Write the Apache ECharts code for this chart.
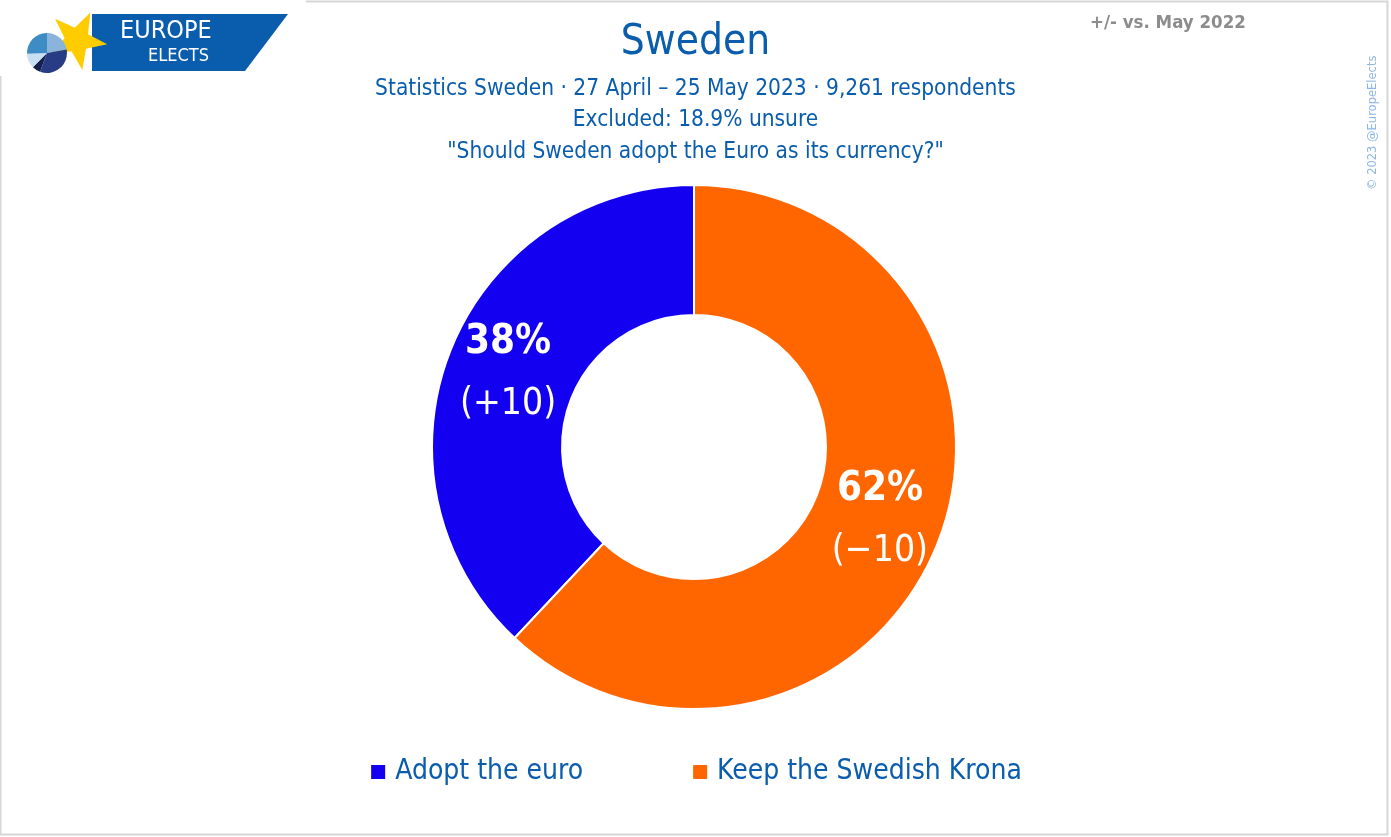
<!DOCTYPE html>
<html><head><meta charset="utf-8">
<script src="https://cdn.jsdelivr.net/npm/echarts@6/dist/echarts.min.js"></script>
<style>html,body{margin:0;padding:0;background:#fff}#c{width:1391px;height:837px}</style>
</head><body><div id="c"></div>
<script>
const categories = ["Adopt the euro", "Keep the Swedish Krona"];
const shares = [38, 62];
const changes = ["+10", "−10"];
const colors = ["#1400F0", "#FF6600"];
const titleText = "Sweden";
const subtitleLines = ["Statistics Sweden · 27 April – 25 May 2023 · 9,261 respondents", "Excluded: 18.9% unsure", "\"Should Sweden adopt the Euro as its currency?\""];
const compareText = "+/- vs. May 2022";
const copyrightText = "© 2023 @EuropeElects";

const FONT = "'DejaVu Sans Condensed','DejaVu Sans',sans-serif";
const chart = echarts.init(document.getElementById('c'));

function starPoints(cx, cy, R, r, rot) {
  const pts = [];
  for (let i = 0; i < 10; i++) {
    const a = rot + i * Math.PI / 5;
    const rr = i % 2 === 0 ? R : r;
    pts.push([cx + rr * Math.sin(a), cy - rr * Math.cos(a)]);
  }
  return pts;
}
const logoPie = [
  {s: 200, e: 225, c: '#15204d'},
  {s: 225, e: 268, c: '#c8def2'},
  {s: 268, e: 360, c: '#3d8dc4'},
  {s: 0, e: 80, c: '#8ab4dc'},
  {s: 80, e: 200, c: '#283b85'}
];
const logoGraphics = [
  {type:'rect', shape:{x:0,y:0,width:306,height:76}, style:{fill:'#fff'}, z:10},
  {type:'polygon', shape:{points:[[92,14],[288,14],[245,71],[92,71]]}, style:{fill:'#0a5cad'}, z:11},
  {type:'polygon', shape:{points:starPoints(77,40,30.5,12.5,-46*Math.PI/180)}, style:{fill:'#FFCC00'}, z:12}
];
logoPie.forEach(p => logoGraphics.push({type:'sector', shape:{cx:47,cy:53,r:20,r0:0,startAngle:(p.s-90)*Math.PI/180,endAngle:(p.e-90)*Math.PI/180}, style:{fill:p.c}, z:13}));
logoGraphics.push({type:'text', x:120, y:19, style:{text:'EUROPE', fill:'#fff', font:"25px "+FONT}, z:15});
logoGraphics.push({type:'text', x:148, y:47, style:{text:'ELECTS', fill:'#fff', font:"18px "+FONT}, z:15});

chart.setOption({
  backgroundColor:'#fff',
  color: colors,
  title: [
    {text: titleText, left:'center', top:17, textStyle:{fontFamily:FONT, fontSize:42, fontWeight:'normal', color:'#0a5cad'}},
    {text: subtitleLines.join('\n'), left:'center', top:68, textStyle:{fontFamily:FONT, fontSize:22.5, fontWeight:'normal', color:'#0a5cad', lineHeight:31.5}},
    {text: compareText, left:1085, top:9, textStyle:{fontFamily:FONT, fontSize:18.5, fontWeight:'bold', color:'#8c8c8c'}}
  ],
  legend: {
    data: categories, bottom: 46, left:'center', itemWidth:16, itemHeight:16, itemGap:108, icon:'rect',
    textStyle:{fontFamily:FONT, fontSize:28, color:'#0a5cad', padding:[0,0,0,4]}
  },
  graphic: [
    {type:'rect', shape:{x:0.5,y:1.5,width:1387,height:833}, style:{fill:'none', stroke:'#d6d6d6', lineWidth:2}, z:1},
    ...logoGraphics,
    {type:'text', x:1367, y:190, rotation:Math.PI/2, style:{text:copyrightText, fill:'#8fb6e2', font:"11.5px 'DejaVu Sans',sans-serif"}, z:5}
  ],
  series: [{
    type:'pie', center:[694,447], radius:[132,262], clockwise:false, startAngle:90,
    avoidLabelOverlap:false,
    itemStyle:{borderColor:'#fff', borderWidth:2},
    label:{show:true, position:'inside', formatter: p => '{a|'+p.value+'%}\n{b|('+changes[p.dataIndex]+')}',
      rich:{a:{fontFamily:FONT, fontSize:40, fontWeight:'bold', color:'#fff', lineHeight:62},
            b:{fontFamily:FONT, fontSize:37, fontWeight:'normal', color:'#fff', lineHeight:62}}},
    labelLine:{show:false},
    emphasis:{disabled:true},
    data: categories.map((c,i)=>({name:c, value:shares[i]}))
  }]
});
</script></body></html>
